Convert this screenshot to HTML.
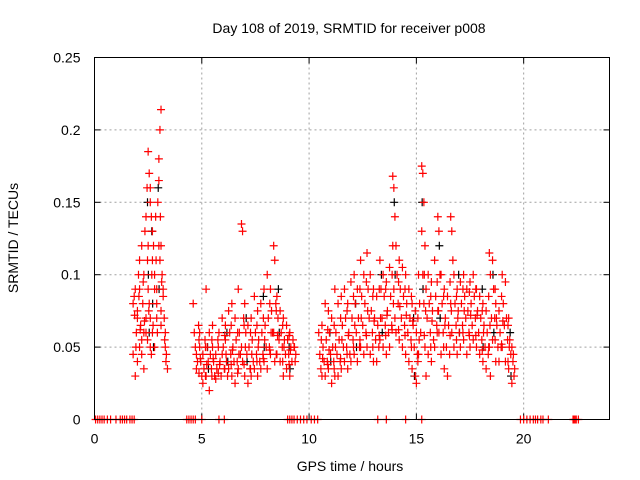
<!DOCTYPE html>
<html><head><meta charset="utf-8"><style>
body{margin:0;background:#fff;}
svg{display:block;font-family:"Liberation Sans",sans-serif;}
</style></head><body>
<svg id="chart" width="640" height="480">
<text x="349" y="33" font-size="14" text-anchor="middle">Day 108 of 2019, SRMTID for receiver p008</text>
<text x="350" y="471" font-size="14" text-anchor="middle">GPS time / hours</text>
<text transform="translate(18,238) rotate(-90)" font-size="14" text-anchor="middle">SRMTID / TECUs</text>
<g id="grid"></g>
<g id="ticks"></g>
<g id="black"></g>
<g id="red"></g>
<rect x="94.5" y="57.5" width="515" height="362" fill="none" stroke="#000" stroke-width="1"/>
</svg>
<script>
const xTicks=[0,5,10,15,20];
const yTicks=[0,0.05,0.1,0.15,0.2,0.25];
const yTickLabels=["0","0.05","0.1","0.15","0.2","0.25"];
const redGroups=[
[1.85,[0.08,0.085,0.03,0.045]],[1.95,[0.09,0.06,0.04]],[2.05,[0.075,0.1,0.05,0.07]],[2.15,[0.11,0.065,0.055,0.09]],[2.25,[0.12,0.08,0.06,0.045]],[2.35,[0.1,0.13,0.07,0.035]],[2.45,[0.14,0.16,0.09,0.06]],[2.55,[0.185,0.17,0.15,0.12,0.08,0.05]],[2.65,[0.16,0.14,0.11,0.07,0.045]],[2.75,[0.13,0.12,0.09,0.06]],[2.85,[0.1,0.14,0.08,0.05]],[2.95,[0.09,0.15,0.12,0.07]],[3.05,[0.165,0.2,0.214,0.18,0.11,0.075]],[3.15,[0.12,0.1,0.085,0.065]],[3.25,[0.09,0.07,0.05]],[3.35,[0.06,0.045,0.035]],
[4.65,[0.08,0.06,0.05]],[4.8,[0.045,0.04,0.065,0.035]],[4.95,[0.05,0.04,0.03,0.06]],[5.1,[0.045,0.035,0.055,0.025]],[5.25,[0.09,0.05,0.04,0.03]],[5.4,[0.06,0.045,0.035,0.02]],[5.55,[0.05,0.04,0.03,0.065]],[5.7,[0.045,0.035,0.055,0.028]],[5.85,[0.06,0.04,0.03]],[6.0,[0.07,0.05,0.035,0.045]],[6.15,[0.065,0.04,0.03,0.055]],[6.3,[0.075,0.06,0.045,0.035]],[6.45,[0.08,0.05,0.04,0.03]],[6.6,[0.07,0.055,0.04,0.025]],[6.75,[0.09,0.06,0.045,0.035]],[6.9,[0.135,0.13,0.07,0.05,0.04]],[7.05,[0.08,0.06,0.045,0.03]],[7.2,[0.065,0.05,0.035,0.025]],[7.35,[0.07,0.055,0.04,0.03]],[7.5,[0.085,0.06,0.045,0.035]],[7.65,[0.075,0.055,0.04,0.03]],[7.8,[0.08,0.06,0.045,0.035]],[7.95,[0.09,0.065,0.05,0.04]],[8.1,[0.1,0.07,0.05,0.035]],[8.25,[0.09,0.075,0.06,0.045]],[8.4,[0.12,0.11,0.08,0.06,0.04]],[8.55,[0.085,0.07,0.055,0.045]],[8.7,[0.075,0.06,0.05,0.04]],[8.85,[0.07,0.055,0.045,0.03]],[9.0,[0.065,0.055,0.045,0.035]],[9.15,[0.06,0.05,0.04,0.03]],[9.3,[0.055,0.05,0.04]],
[10.5,[0.06,0.045,0.035]],[10.65,[0.065,0.05,0.04,0.03]],[10.8,[0.08,0.055,0.04,0.03]],[10.95,[0.075,0.06,0.045,0.035]],[11.1,[0.07,0.05,0.04,0.025]],[11.25,[0.09,0.06,0.045,0.03]],[11.4,[0.08,0.055,0.04,0.03]],[11.55,[0.085,0.065,0.05,0.035]],[11.7,[0.09,0.07,0.05,0.04]],[11.85,[0.08,0.06,0.045,0.035]],[12.0,[0.095,0.07,0.055,0.04]],[12.15,[0.1,0.08,0.06,0.045]],[12.3,[0.09,0.07,0.05,0.04]],[12.45,[0.11,0.085,0.065,0.05]],[12.6,[0.1,0.08,0.06,0.045]],[12.75,[0.115,0.09,0.07,0.05]],[12.9,[0.1,0.075,0.06,0.045]],[13.05,[0.09,0.07,0.055,0.04]],[13.2,[0.085,0.065,0.05,0.04]],[13.35,[0.11,0.09,0.07,0.055]],[13.5,[0.1,0.085,0.065,0.05]],[13.65,[0.095,0.075,0.06,0.045]],[13.8,[0.105,0.085,0.065,0.05]],[13.95,[0.168,0.16,0.14,0.12,0.09,0.07]],[14.1,[0.12,0.1,0.08,0.06]],[14.25,[0.11,0.09,0.07,0.055]],[14.4,[0.105,0.085,0.065,0.05]],[14.55,[0.1,0.08,0.06,0.045]],[14.7,[0.09,0.07,0.055,0.04]],[14.85,[0.08,0.065,0.05,0.035]],[15.0,[0.075,0.06,0.045,0.03,0.025]],[15.15,[0.1,0.08,0.06,0.045]],[15.3,[0.175,0.17,0.15,0.13,0.1,0.08]],[15.45,[0.12,0.09,0.07,0.05,0.03]],[15.6,[0.1,0.08,0.06,0.045]],[15.75,[0.095,0.075,0.055,0.04]],[15.9,[0.11,0.085,0.065,0.05]],[16.05,[0.14,0.13,0.1,0.075,0.06]],[16.2,[0.1,0.08,0.06,0.045]],[16.35,[0.09,0.07,0.05,0.035]],[16.5,[0.085,0.065,0.045,0.03]],[16.65,[0.14,0.13,0.11,0.08,0.06]],[16.8,[0.1,0.08,0.065,0.05]],[16.95,[0.09,0.075,0.06,0.045]],[17.1,[0.095,0.08,0.065,0.05]],[17.25,[0.1,0.085,0.07,0.055]],[17.4,[0.09,0.075,0.06,0.045]],[17.55,[0.095,0.08,0.065,0.05]],[17.7,[0.1,0.085,0.07,0.055]],[17.85,[0.09,0.075,0.06,0.05]],[18.0,[0.085,0.07,0.055,0.045]],[18.15,[0.08,0.065,0.05,0.04]],[18.3,[0.075,0.06,0.045,0.035]],[18.45,[0.115,0.1,0.07,0.05,0.03]],[18.6,[0.11,0.09,0.07,0.055]],[18.75,[0.08,0.065,0.05,0.04]],[18.9,[0.075,0.06,0.05,0.04]],[19.05,[0.1,0.08,0.065,0.05]],[19.2,[0.095,0.07,0.055,0.04]],[19.35,[0.07,0.055,0.045,0.035]],[19.5,[0.05,0.04,0.03,0.025]]
];
const redGroupsExtra=[
[1.9,[0.072,0.05]],[2.1,[0.085,0.062]],[2.3,[0.095,0.068]],[2.5,[0.11,0.075,0.055]],[2.7,[0.1,0.065]],[2.9,[0.11,0.06]],[3.1,[0.14,0.095]],[3.3,[0.055,0.04]],
[4.9,[0.055,0.042,0.032]],[5.2,[0.05,0.038,0.03]],[5.5,[0.055,0.042,0.03]],[5.8,[0.05,0.038,0.032]],[6.1,[0.058,0.045,0.035]],[6.4,[0.065,0.048,0.038]],[6.7,[0.06,0.045,0.032]],[7.0,[0.065,0.05,0.038]],[7.3,[0.06,0.045,0.035]],[7.6,[0.065,0.05,0.04]],[7.9,[0.07,0.055,0.042]],[8.2,[0.08,0.06,0.048]],[8.5,[0.075,0.058,0.045]],[8.8,[0.065,0.05,0.04]],[9.1,[0.058,0.048,0.038]],[9.35,[0.05,0.045]],
[10.6,[0.055,0.042]],[10.9,[0.062,0.048,0.038]],[11.2,[0.065,0.05,0.035]],[11.5,[0.07,0.055,0.042]],[11.8,[0.075,0.058,0.045]],[12.1,[0.085,0.065,0.05]],[12.4,[0.09,0.07,0.055]],[12.7,[0.095,0.075,0.058]],[13.0,[0.085,0.068,0.05]],[13.3,[0.09,0.07,0.058]],[13.6,[0.09,0.072,0.058]],[13.9,[0.1,0.08,0.062]],[14.2,[0.095,0.078,0.062]],[14.5,[0.09,0.072,0.058]],[14.8,[0.085,0.068,0.05]],[15.1,[0.07,0.055,0.04]],[15.4,[0.1,0.075,0.058]],[15.7,[0.085,0.068,0.05]],[16.0,[0.095,0.075,0.06]],[16.3,[0.085,0.065,0.05]],[16.6,[0.095,0.075,0.058]],[16.9,[0.085,0.07,0.055]],[17.2,[0.09,0.075,0.06]],[17.5,[0.088,0.072,0.058]],[17.8,[0.09,0.072,0.058]],[18.1,[0.075,0.06,0.048]],[18.4,[0.085,0.065,0.05]],[18.7,[0.09,0.07,0.055]],[19.0,[0.085,0.068,0.052]],[19.3,[0.065,0.05,0.04]],[19.55,[0.045,0.035]]
];
const blackGroups=[
[2.5,[0.15,0.1,0.06]],[2.7,[0.13,0.08,0.05]],[3.0,[0.16,0.09]],[5.3,[0.05,0.035]],[6.2,[0.06,0.04]],[7.1,[0.07,0.04]],[7.9,[0.085,0.05]],[8.6,[0.09,0.06]],[9.1,[0.05,0.035]],[11.0,[0.06,0.04]],[12.2,[0.08,0.05]],[13.4,[0.1,0.06]],[14.0,[0.15,0.1]],[14.9,[0.07,0.03]],[15.3,[0.15,0.09]],[16.1,[0.12,0.07]],[17.0,[0.1,0.06]],[18.1,[0.09,0.05]],[18.6,[0.1,0.06]],[19.4,[0.06,0.03]]
];
const zeroHours=[0.05,0.15,0.25,0.35,0.45,0.6,0.75,1.0,1.2,1.3,1.4,1.5,1.65,1.75,1.85,4.3,4.4,4.5,4.6,4.7,5.0,5.8,6.05,9.0,9.1,9.2,9.3,9.45,9.6,9.75,9.9,10.1,10.25,10.4,13.2,13.6,14.5,15.25,19.85,20.0,20.15,20.3,20.45,20.55,20.65,20.8,20.9,21.15,22.3,22.35,22.4,22.45,22.55];

const X0=94.5,X1=609.5,Y0=419.5,Y1=57.5,XMAX=24,YMAX=0.25;
const xs=h=>X0+(X1-X0)*h/XMAX;
const ys=v=>Y0-(Y0-Y1)*v/YMAX;
const NS="http://www.w3.org/2000/svg";
function mk(tag,attrs,parent){const e=document.createElementNS(NS,tag);for(const k in attrs)e.setAttribute(k,attrs[k]);parent.appendChild(e);return e;}
const grid=document.getElementById('grid'),ticks=document.getElementById('ticks');
xTicks.forEach(t=>{
  const x=xs(t);
  if(t>0){const l=mk('line',{x1:x,x2:x,y1:Y0,y2:Y1,stroke:'#a0a0a0','stroke-dasharray':'2,3'},grid);
  
  }
  mk('line',{x1:x,x2:x,y1:Y0,y2:Y0-6,stroke:'#000'},ticks);
  mk('line',{x1:x,x2:x,y1:Y1,y2:Y1+6,stroke:'#000'},ticks);
  const tx=mk('text',{x:x,y:Y0+24,'font-size':14,'text-anchor':'middle'},ticks);
  tx.textContent=t;
  
  
});
yTicks.forEach((t,i)=>{
  const y=ys(t);
  if(t>0&&t<YMAX){const l=mk('line',{x1:X0,x2:X1,y1:y,y2:y,stroke:'#a0a0a0','stroke-dasharray':'2,3'},grid);
  
  }
  mk('line',{x1:X0,x2:X0+6,y1:y,y2:y,stroke:'#000'},ticks);
  mk('line',{x1:X1,x2:X1-6,y1:y,y2:y,stroke:'#000'},ticks);
  const tx=mk('text',{x:X0-14,y:y+5,'font-size':14,'text-anchor':'end'},ticks);
  tx.textContent=yTickLabels[i];
  
  
});
function plus(h,v,color,g){
  const x=xs(h),y=ys(v);
  const p=mk('path',{d:`M${x-4},${y}H${x+4}M${x},${y-4}V${y+4}`,stroke:color,'stroke-width':1.2,fill:'none'},g);
  
  
}
const bg=document.getElementById('black'),rg=document.getElementById('red');
blackGroups.forEach(([h,vals])=>vals.forEach((v,i)=>plus(h+i*0.04-0.03,v,'#000',bg)));
redGroups.forEach(([h,vals])=>vals.forEach((v,i)=>plus(h+((i%3)-1)*0.05,v,'#ff0000',rg)));
redGroupsExtra.forEach(([h,vals])=>vals.forEach((v,i)=>plus(h+((i%2)-0.5)*0.06,v,'#ff0000',rg)));
zeroHours.forEach(h=>plus(h,0,'#ff0000',rg));
</script>
</body></html>
